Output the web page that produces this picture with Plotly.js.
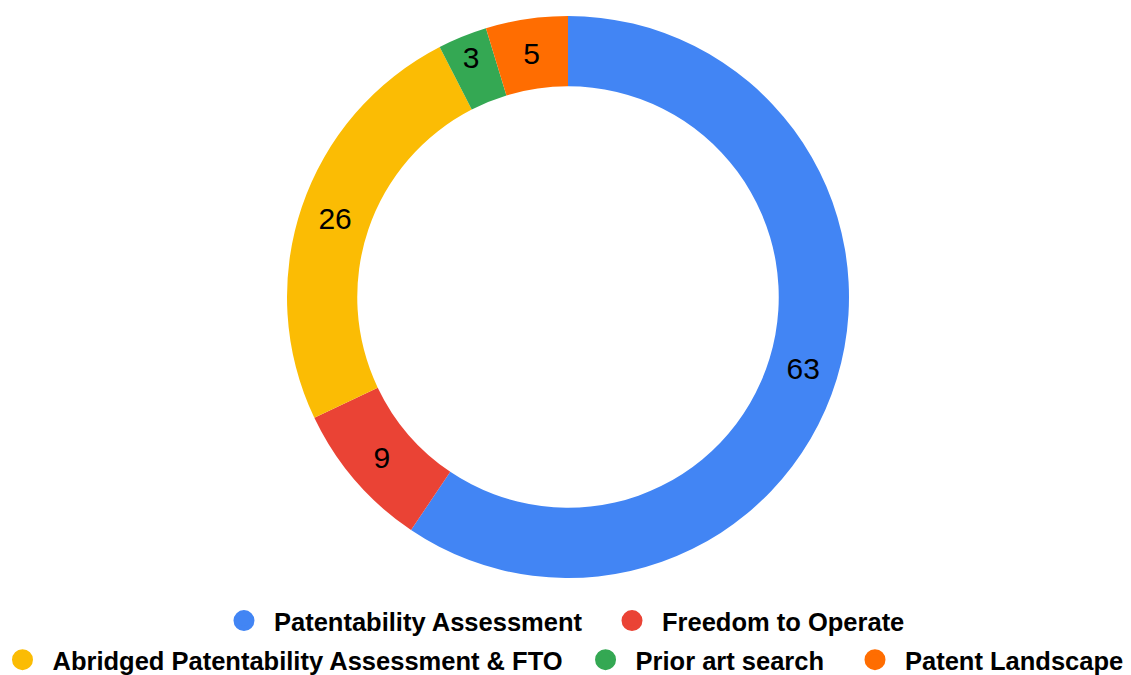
<!DOCTYPE html>
<html>
<head>
<meta charset="utf-8">
<script src="https://cdn.plot.ly/plotly-3.0.1.min.js"></script>
<style>html,body{margin:0;padding:0;background:#fff;}#chart{width:1131px;height:675px;}</style>
</head>
<body>
<div id="chart"></div>
<script>
const categories = ["Patentability Assessment", "Freedom to Operate", "Abridged Patentability Assessment & FTO", "Prior art search", "Patent Landscape"];
const values = [63, 9, 26, 3, 5];
const colors = ["#4285F4", "#EA4335", "#FBBC04", "#34A853", "#FF6D01"];

const FONT = "Arial, 'Liberation Sans', sans-serif";

// legend entry placement (layout only): [x paper, y paper]
const legendX = [0.1856, 0.5302, -0.0111, 0.5067, 0.746];
const legendY = [-0.0765, -0.0765, -0.146, -0.146, -0.146];

const pie = {
  type: "pie",
  labels: categories,
  values: values,
  sort: false,
  direction: "clockwise",
  rotation: 0,
  hole: 0.75,
  marker: {colors: colors, line: {width: 0}},
  textinfo: "value",
  textposition: "inside",
  insidetextorientation: "horizontal",
  textfont: {family: FONT, size: 30, color: "#000000"},
  showlegend: false,
  domain: {x: [0, 1], y: [0, 1]}
};

const legendIds = ["legend", "legend2", "legend3", "legend4", "legend5"];

const legendTraces = categories.map((c, i) => ({
  type: "scatter",
  mode: "markers",
  x: [null], y: [null],
  name: c,
  legend: legendIds[i],
  marker: {symbol: "circle", size: 16, color: colors[i], line: {color: colors[i], width: 5}},
  hoverinfo: "skip"
}));

const layout = {
  width: 1131, height: 675,
  margin: {l: 5, r: 0, t: 16, b: 97, autoexpand: false},
  paper_bgcolor: "#ffffff",
  plot_bgcolor: "#ffffff",
  font: {family: FONT, color: "#000000"},
  xaxis: {visible: false},
  yaxis: {visible: false},
  showlegend: true
};

legendIds.forEach((id, i) => {
  layout[id] = {
    orientation: "h",
    x: legendX[i], xanchor: "left",
    y: legendY[i], yanchor: "middle",
    bgcolor: "rgba(0,0,0,0)",
    itemwidth: 50,
    font: {family: FONT, size: 25.5, color: "#000000", weight: "bold"},
    itemclick: false,
    itemdoubleclick: false
  };
});

Plotly.newPlot("chart", [pie].concat(legendTraces), layout, {displayModeBar: false, staticPlot: true});
</script>
</body>
</html>
